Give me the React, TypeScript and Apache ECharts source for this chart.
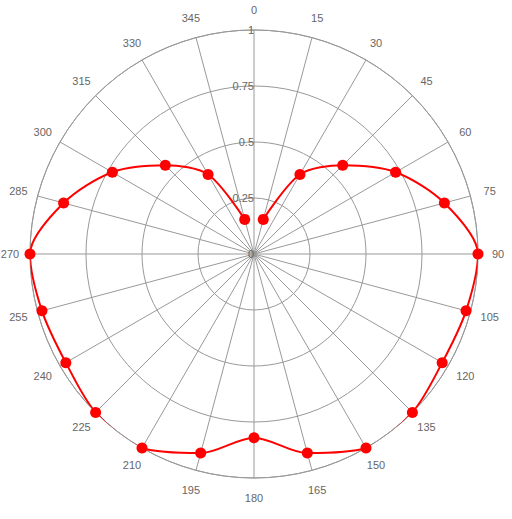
import React, { useEffect, useRef } from "react";
import * as echarts from "echarts";

const angles = [15, 30, 45, 60, 75, 90, 105, 120, 135, 150, 165, 180, 195, 210, 225, 240, 255, 270, 285, 300, 315, 330, 345];
const values = [0.16, 0.41, 0.56, 0.73, 0.88, 1.0, 0.98, 0.97, 1.0, 1.0, 0.92, 0.82, 0.92, 1.0, 1.0, 0.97, 0.98, 1.0, 0.88, 0.73, 0.56, 0.41, 0.16];
const angleTicks = [0, 15, 30, 45, 60, 75, 90, 105, 120, 135, 150, 165, 180, 195, 210, 225, 240, 255, 270, 285, 300, 315, 330, 345];
const radialTicks = [0, 0.25, 0.5, 0.75, 1];

export default function App() {
  const ref = useRef<HTMLDivElement>(null);
  useEffect(() => {
    if (!ref.current) return;
    const chart = echarts.init(ref.current, null, { renderer: "svg" });
    const labelFont = { color: "#666666", fontSize: 11, fontFamily: "Liberation Sans, Arial, sans-serif" };
    chart.setOption({
      animation: false,
      polar: { center: [254, 254], radius: 224 },
      angleAxis: {
        type: "value",
        min: 0,
        max: 360,
        interval: 15,
        startAngle: 90,
        clockwise: true,
        axisLine: { show: true, lineStyle: { color: "#999999", width: 1 } },
        axisTick: { show: false },
        axisLabel: { show: false },
        splitLine: { show: true, lineStyle: { color: "#999999", width: 1 } },
      },
      radiusAxis: {
        type: "value",
        min: radialTicks[0],
        max: radialTicks[radialTicks.length - 1],
        interval: 0.25,
        axisLine: { show: false },
        axisTick: { show: false },
        axisLabel: {
          ...labelFont,
          margin: 0,
          align: "right",
          verticalAlign: "middle",
          formatter: (v: number) => String(v),
        },
        splitLine: { show: true, lineStyle: { color: "#999999", width: 1 } },
      },
      series: [
        {
          type: "line",
          coordinateSystem: "polar",
          data: angles.map((a, i) => [values[i], a]),
          smooth: 0.3,
          symbol: "circle",
          symbolSize: 11,
          itemStyle: { color: "#ff0000" },
          lineStyle: { color: "#ff0000", width: 2 },
        },
      ],
    });
    const rMax = radialTicks[radialTicks.length - 1];
    const labelGap = 20;
    const texts = angleTicks.map((a) => {
      const c = chart.convertToPixel({ polarIndex: 0 } as any, [0, a]) as number[];
      const e = chart.convertToPixel({ polarIndex: 0 } as any, [rMax, a]) as number[];
      const dx = e[0] - c[0];
      const dy = e[1] - c[1];
      const len = Math.sqrt(dx * dx + dy * dy) || 1;
      const k = (len + labelGap) / len;
      return {
        type: "text",
        x: c[0] + dx * k,
        y: c[1] + dy * k,
        silent: true,
        style: {
          text: String(a),
          fill: labelFont.color,
          fontSize: labelFont.fontSize,
          fontFamily: labelFont.fontFamily,
          align: "center",
          verticalAlign: "middle",
        },
      };
    });
    chart.setOption({ graphic: texts });
    return () => chart.dispose();
  }, []);
  return (
    <div
      ref={ref}
      style={{ position: "fixed", left: 0, top: 0, width: 512, height: 519, background: "#ffffff" }}
    />
  );
}
